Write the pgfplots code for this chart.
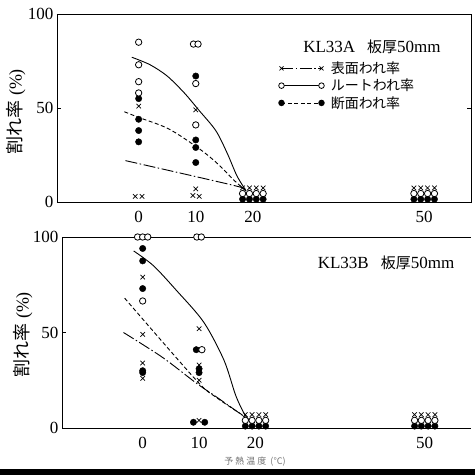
\documentclass[border=0pt]{standalone}
\usepackage{fontspec}
\setmainfont{Liberation Serif}
\newfontfamily\jp{Noto Sans CJK JP}
\usepackage{pgfplots}
\pgfplotsset{compat=1.18}

\pgfplotsset{
  panel/.style={
    scale only axis,
    xmin=-14.3, xmax=58.2, ymin=0, ymax=100,
    xtick={0,10,20,50}, ytick={0,50,100},
    clip=false,
    tick label style={font=\fontsize{17}{17}\selectfont},
    /pgf/number format/assume math mode=true,
    axis line style={line width=0.9pt},
    ytick style={line width=0.8pt, black},
    major tick length=4pt,
    xtick style={draw=none},
    xticklabel style={yshift=-6pt},
    legend image code/.code={\draw[##1] plot coordinates {(0pt,0pt) (40pt,0pt)};},
  },
  cr/.style={only marks, mark=x, mark size=3.2pt, black, line width=0.7pt},
  op/.style={only marks, mark=*, mark size=3.2pt, line width=0.8pt, mark options={fill=white, draw=black}},
  fi/.style={only marks, mark=*, mark size=3.2pt, black},
  cv/.style={black, line width=0.9pt, smooth, no marks},
  dd/.style={dash pattern=on 12pt off 2.5pt on 1.5pt off 2.5pt},
  ds/.style={dash pattern=on 4pt off 2.5pt},
}

\begin{document}
\begin{tikzpicture}[x=1pt,y=1pt]
\fill[black] (0,0) rectangle (475,6);

% ---- KL33A
\begin{axis}[panel, at={(57pt,273pt)}, anchor=south west, width=414pt, height=188pt,
  legend style={at={(rel axis cs:0.535,0.755)}, anchor=north west, draw=none, fill=none,
    inner sep=0pt, row sep=1pt, nodes={inner sep=1.5pt}, font=\jp\fontsize{14}{14}\selectfont,
    /tikz/every odd column/.append style={column sep=5pt}},
  legend cell align=left]
\addlegendimage{black, line width=0.8pt, dd, mark=x, mark size=2.8pt, mark options={solid}}
\addlegendentry{表面われ率}
\addlegendimage{black, line width=0.8pt, mark=*, mark size=2.8pt, mark options={solid, fill=white}}
\addlegendentry{ルートわれ率}
\addlegendimage{black, line width=0.8pt, ds, mark=*, mark size=2.8pt, mark options={solid}}
\addlegendentry{断面われ率}

\addplot[cv, forget plot] coordinates {(-1.2,77) (2,73) (5,67) (8,58) (10.5,49) (13.5,38) (15.5,26) (17.2,14) (18.8,6)};
\addplot[cv, ds, forget plot] coordinates {(-2.5,48) (0,45) (5.2,39) (10.3,29) (13.6,21) (16.9,11) (18.8,6)};
\addplot[cv, dd, forget plot] coordinates {(-2.3,22) (10.3,13.3) (17.7,8) (19,6)};

\addplot[cr, forget plot] coordinates {(0,51) (-0.6,3) (0.6,3) (10,49) (10,7) (9.5,3.5) (10.6,3)
  (18.2,7.5) (19.4,7.5) (20.6,7.5) (21.8,7.5) (48.2,7.5) (49.4,7.5) (50.6,7.5) (51.8,7.5)};
\addplot[fi, forget plot] coordinates {(0,55) (0,44) (0,38) (0,32) (10,67) (10,33) (10,29) (10,21)
  (18.2,1.5) (19.4,1.5) (20.6,1.5) (21.8,1.5) (48.2,1.5) (49.4,1.5) (50.6,1.5) (51.8,1.5)};
\addplot[op, forget plot] coordinates {(0,85) (0,73) (0,64) (0,58) (9.6,84) (10.4,84) (10,63) (10,41)
  (18.2,4.5) (19.4,4.5) (20.6,4.5) (21.8,4.5) (48.2,4.5) (49.4,4.5) (50.6,4.5) (51.8,4.5)};
\end{axis}

% ---- KL33B
\begin{axis}[panel, at={(62pt,47pt)}, anchor=south west, width=409pt, height=191pt,
  axis x line*=box, axis y line*=left]
\addplot[cv] coordinates {(-1.6,92.7) (1.9,85) (6,72) (10.8,55.5) (14.4,35.6) (16.5,17) (18.1,7) (19,4)};
\addplot[cv, ds] coordinates {(-3.2,68) (9.5,25) (13.2,15.7) (18.1,6)};
\addplot[cv, dd] coordinates {(-3.4,50) (3.5,37) (9.5,23.5) (13.2,16) (18,6)};

\addplot[cr] coordinates {(0,79) (0,49) (0,34) (0,26) (10,52) (10,33) (10,25) (10,4)
  (18.2,7) (19.4,7) (20.6,7) (21.8,7) (48.2,7) (49.4,7) (50.6,7) (51.8,7)};
\addplot[fi] coordinates {(0,94) (0,87.5) (0,73) (0,30) (0,29) (9.5,41) (10,31) (10,29) (9,3) (11,3)
  (18.2,1) (19.4,1) (20.6,1) (21.8,1) (48.2,1) (49.4,1) (50.6,1) (51.8,1)};
\addplot[op] coordinates {(-0.9,100) (0,100) (0.9,100) (0,66.5) (9.6,100) (10.4,100) (10.5,41)
  (18.2,4) (19.4,4) (20.6,4) (21.8,4) (48.2,4) (49.4,4) (50.6,4) (51.8,4)};
\end{axis}

\node[font=\fontsize{17}{17}\selectfont] at (372,428) {KL33A\hspace{12pt}{\jp\fontsize{15}{15}\selectfont 板厚}50mm};
\node[font=\fontsize{17}{17}\selectfont] at (386,212) {KL33B\hspace{12pt}{\jp\fontsize{15}{15}\selectfont 板厚}50mm};
\node[rotate=90, font=\fontsize{18}{18}\selectfont] at (16,363) {{\jp 割れ率}\hspace{5pt}(\%)};
\node[rotate=90, font=\fontsize{18}{18}\selectfont] at (23,140) {{\jp 割れ率}\hspace{5pt}(\%)};
\node[text=black!55, font=\jp\fontsize{9}{9}\selectfont] at (255,13) {予\ 熱\ 温\ 度\ \ (°C)};

\pgfresetboundingbox
\path[use as bounding box] (0,0) rectangle (475,475);
\end{tikzpicture}
\end{document}
